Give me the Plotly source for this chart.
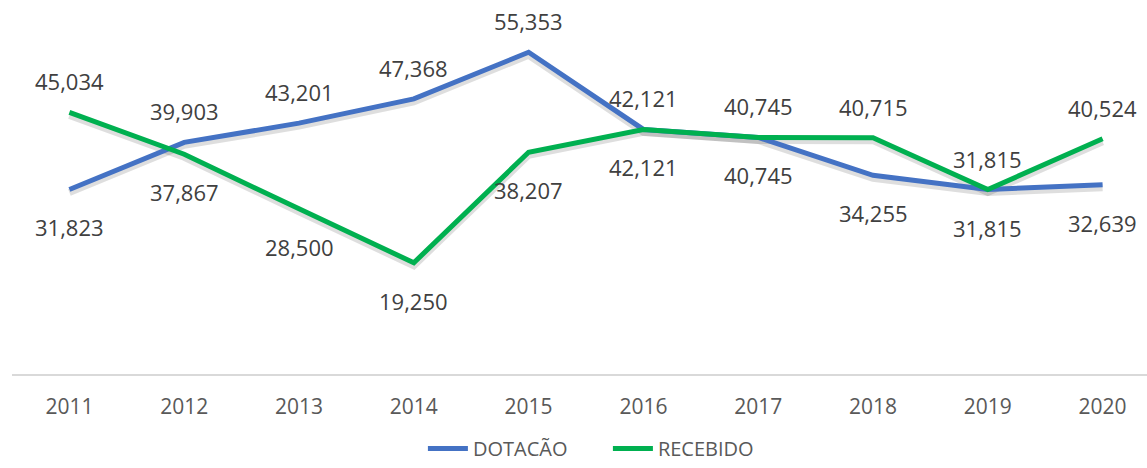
import plotly.graph_objects as go

years = ["2011", "2012", "2013", "2014", "2015", "2016", "2017", "2018", "2019", "2020"]
dotacao = [31823, 39903, 43201, 47368, 55353, 42121, 40745, 34255, 31815, 32639]
recebido = [45034, 37867, 28500, 19250, 38207, 42121, 40745, 40715, 31815, 40524]

# label placement (style): 1 = above, -1 = below
dotacao_pos = [-1, 1, 1, 1, 1, 1, 1, -1, -1, -1]
recebido_pos = [1, -1, -1, -1, -1, -1, -1, 1, 1, 1]

BLUE = "#4472C4"
GREEN = "#00B050"
FONT = "Open Sans"

W, H = 1147, 468
ml, mr, mt, mb = 12, 0, 0, 93
plot_w = W - ml - mr
plot_h = H - mt - mb
px_per_cat = 114.8
px_per_unit = 5.83 / 1000
xmax = plot_w / px_per_cat - 0.5
ymax = plot_h / px_per_unit

# shadow axis: same data, shifted a few pixels down
shadow_dy = 3 / px_per_unit

fig = go.Figure()

for vals in (dotacao, recebido):
    fig.add_trace(go.Scatter(
        x=years, y=vals, mode="lines", xaxis="x", yaxis="y",
        line=dict(color="rgba(0,0,0,0.13)", width=7),
        showlegend=False, hoverinfo="skip"))

fig.add_trace(go.Scatter(x=years, y=dotacao, mode="lines", name="DOTACÃO",
                         xaxis="x", yaxis="y2", line=dict(color=BLUE, width=5)))
fig.add_trace(go.Scatter(x=years, y=recebido, mode="lines", name="RECEBIDO",
                         xaxis="x", yaxis="y2", line=dict(color=GREEN, width=5)))

annotations = []
for vals, pos in ((dotacao, dotacao_pos), (recebido, recebido_pos)):
    for i, (yv, p) in enumerate(zip(vals, pos)):
        annotations.append(dict(
            x=i, y=yv, xref="x", yref="y2", text=f"{yv:,}", showarrow=False,
            yshift=31 if p > 0 else -38, yanchor="middle", xanchor="center",
            font=dict(family=FONT, size=22, color="#404040")))

fig.update_layout(
    width=W, height=H,
    margin=dict(l=ml, r=mr, t=mt, b=mb, autoexpand=False),
    paper_bgcolor="white", plot_bgcolor="white",
    showlegend=True,
    legend=dict(orientation="h", x=0.53, xanchor="center", y=0.0, yanchor="bottom",
                xref="container", yref="container",
                font=dict(family=FONT, size=20, color="#595959"),
                itemwidth=40, tracegroupgap=0, entrywidth=130),
    annotations=annotations,
    xaxis=dict(type="category", range=[-0.5, xmax], showgrid=False, zeroline=False,
               showline=False, ticks="", tickfont=dict(family=FONT, size=21, color="#595959"),
               ticklabelstandoff=17, automargin=False),
    yaxis=dict(range=[shadow_dy, ymax + shadow_dy], showgrid=False, zeroline=False,
               showticklabels=False, showline=False, automargin=False),
    yaxis2=dict(range=[0, ymax], overlaying="y", showgrid=False, zeroline=True,
                zerolinecolor="#D9D9D9", zerolinewidth=2, showticklabels=False,
                showline=False, automargin=False),
    font=dict(family=FONT),
)

fig.write_html("out.html", config={"displayModeBar": False},
               post_script="document.body.style.margin='0';")
